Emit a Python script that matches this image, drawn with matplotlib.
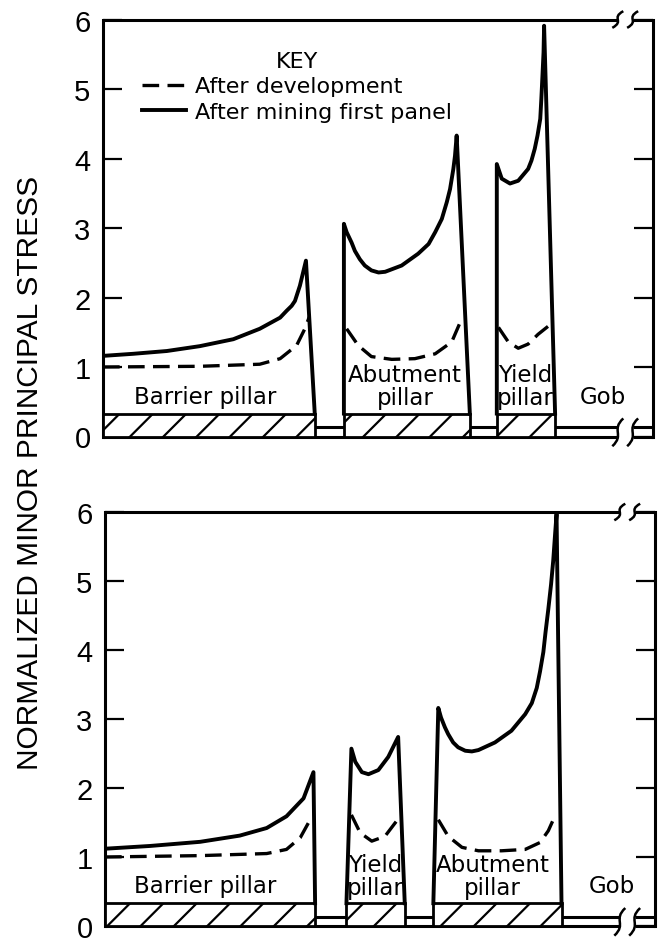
import matplotlib
matplotlib.use("Agg")
import matplotlib.pyplot as plt
from matplotlib.patches import Rectangle, PathPatch
from matplotlib.path import Path

plt.rcParams['lines.scale_dashes'] = False
plt.rcParams['hatch.linewidth'] = 1.6
plt.rcParams['font.family'] = ['DejaVu Sans']

# ---------------- data (x: distance across panel, 0-100; y: normalized stress) ----------------
# Top panel (after development / after mining first panel)
top_barrier_solid_x = [0, 5.5, 11.6, 17.6, 23.7, 28.5, 32.2, 33.4, 34.3, 34.9, 35.8, 36.9, 38.5]
top_barrier_solid_y = [1.16, 1.19, 1.23, 1.30, 1.40, 1.55, 1.71, 1.81, 1.88, 1.95, 2.17, 2.53, 0.33]
top_barrier_dash_x = [0, 17.6, 28.5, 32.2, 35.2, 36.7, 37.5]
top_barrier_dash_y = [1.0, 1.01, 1.04, 1.12, 1.31, 1.55, 1.72]

top_abut_solid_x = [43.8, 43.8, 44.3, 45.2, 45.8, 46.7, 47.6, 48.8, 50.1, 51.3, 54.3, 57.3,
                    59.2, 60.4, 61.6, 62.5, 63.1, 63.7, 64.0, 64.3, 66.7]
top_abut_solid_y = [0.33, 3.06, 2.94, 2.79, 2.67, 2.55, 2.46, 2.39, 2.36, 2.37, 2.46, 2.63,
                    2.77, 2.94, 3.13, 3.37, 3.56, 3.85, 4.04, 4.33, 0.33]
top_abut_dash_x = [44.3, 46.4, 48.8, 52.5, 56.7, 60.4, 63.4, 65.2]
top_abut_dash_y = [1.55, 1.31, 1.15, 1.11, 1.12, 1.19, 1.36, 1.69]

top_yield_solid_x = [71.6, 71.6, 72.5, 74.0, 75.5, 77.3, 77.9, 78.5, 79.0, 79.5, 79.7, 79.9,
                     80.1, 80.2, 82.2]
top_yield_solid_y = [0.33, 3.92, 3.71, 3.64, 3.68, 3.85, 3.97, 4.14, 4.33, 4.57, 4.86, 5.19,
                     5.53, 5.91, 0.33]
top_yield_dash_x = [71.9, 73.7, 75.5, 77.3, 79.1, 81.0]
top_yield_dash_y = [1.57, 1.36, 1.27, 1.33, 1.47, 1.59]

top_pillar_left = [0, 43.8, 71.6]
top_pillar_right = [38.5, 66.7, 82.2]
top_labels = ["Barrier pillar", "Abutment\npillar", "Yield\npillar", "Gob"]
top_label_x = [18.5, 54.9, 76.7, 90.9]
top_label_y = [0.58, 0.73, 0.73, 0.58]

# Bottom panel
bot_barrier_solid_x = [0, 8.2, 17.3, 24.5, 29.4, 33.0, 36.1, 37.9, 38.2]
bot_barrier_solid_y = [1.12, 1.16, 1.22, 1.31, 1.42, 1.59, 1.85, 2.23, 0.33]
bot_barrier_dash_x = [0, 17.3, 29.4, 33.0, 35.5, 37.3]
bot_barrier_dash_y = [1.0, 1.02, 1.05, 1.11, 1.28, 1.54]

bot_yield_solid_x = [43.9, 44.8, 45.5, 46.7, 47.9, 49.7, 51.5, 53.3, 54.5]
bot_yield_solid_y = [0.33, 2.57, 2.38, 2.23, 2.20, 2.26, 2.45, 2.74, 0.33]
bot_yield_dash_x = [44.8, 46.4, 48.5, 50.9, 53.0, 53.6]
bot_yield_dash_y = [1.61, 1.35, 1.23, 1.30, 1.52, 1.61]

bot_abut_solid_x = [59.7, 60.6, 61.1, 61.8, 62.4, 63.3, 64.2, 65.5, 66.7, 67.9, 70.9, 73.9,
                    76.4, 77.6, 78.5, 79.1, 79.7, 80.1, 80.6, 81.1, 81.5, 81.8, 82.1, 83.0]
bot_abut_solid_y = [0.33, 3.16, 3.02, 2.88, 2.78, 2.66, 2.59, 2.54, 2.53, 2.55, 2.66, 2.83,
                    3.07, 3.23, 3.45, 3.69, 3.97, 4.26, 4.59, 4.95, 5.30, 5.64, 5.97, 0.33]
bot_abut_dash_x = [60.6, 62.4, 64.9, 67.9, 72.1, 76.4, 79.1, 80.6, 81.5]
bot_abut_dash_y = [1.54, 1.30, 1.14, 1.09, 1.09, 1.11, 1.21, 1.38, 1.54]

bot_pillar_left = [0, 43.9, 59.7]
bot_pillar_right = [38.2, 54.5, 83.0]
bot_labels = ["Barrier pillar", "Yield\npillar", "Abutment\npillar", "Gob"]
bot_label_x = [18.2, 49.1, 70.5, 92.2]
bot_label_y = [0.59, 0.73, 0.73, 0.59]

y_ticks = [0, 1, 2, 3, 4, 5, 6]
y_label = "NORMALIZED MINOR PRINCIPAL STRESS"
key_labels = ["After development", "After mining first panel"]

# ---------------- style constants ----------------
PILLAR_H = 0.33
FLOOR_Y = 0.13
BREAK_X = (93.6, 96.3)
SOLID_LW = 2.8
DASH_LW = 2.4
DASH = (0, (12, 6))
SPINE_LW = 2.2
TEXT_FS = 16.5
KEY_FS = 16


def s_mark(ax, x, y, h):
    w = 1.0
    verts = [(x - w, y - h), (x + 1.3 * w, y - 0.15 * h),
             (x - 1.3 * w, y + 0.15 * h), (x + w, y + h)]
    codes = [Path.MOVETO, Path.CURVE4, Path.CURVE4, Path.CURVE4]
    ax.add_patch(PathPatch(Path(verts, codes), fill=False, lw=1.8,
                           edgecolor='black', clip_on=False, zorder=5))


def draw_panel(ax, solids, dashes, pl, pr, labels, lx, ly):
    ax.set_xlim(0, 100)
    ax.set_ylim(0, 6)
    for s in ('top', 'bottom'):
        ax.spines[s].set_visible(False)
    for s in ('left', 'right'):
        ax.spines[s].set_linewidth(SPINE_LW)
    ax.set_xticks([])
    ax.set_yticks(y_ticks)
    ax.set_yticklabels([str(t) for t in y_ticks], fontsize=21,
                       family=['Liberation Sans', 'DejaVu Sans'])
    ax.tick_params(axis='y', direction='in', length=14, width=1.6,
                   right=True, left=True, labelleft=True, labelright=False, pad=9)
    # top spine and bottom lines with breaks
    for yy in (6, FLOOR_Y, 0):
        ax.plot([0, BREAK_X[0]], [yy, yy], color='black', lw=SPINE_LW,
                clip_on=False, zorder=2, solid_capstyle='butt')
        ax.plot([BREAK_X[1], 100], [yy, yy], color='black', lw=SPINE_LW,
                clip_on=False, zorder=2, solid_capstyle='butt')
    for bx in BREAK_X:
        s_mark(ax, bx, 6, 0.12)
        s_mark(ax, bx, 0.06, 0.2)
    # pillars
    for l, r in zip(pl, pr):
        ax.add_patch(Rectangle((l, 0), r - l, PILLAR_H, facecolor='white',
                               edgecolor='black', hatch='/', lw=2.0, zorder=3,
                               clip_on=False))
    handles = []
    for x, y in dashes:
        h, = ax.plot(x, y, color='black', lw=DASH_LW, ls=DASH, zorder=4)
        handles.append(h)
    sh = []
    for x, y in solids:
        h, = ax.plot(x, y, color='black', lw=SOLID_LW, zorder=4,
                     solid_joinstyle='round')
        sh.append(h)
    for t, x, y in zip(labels, lx, ly):
        ax.text(x, y, t, ha='center', va='center', fontsize=TEXT_FS,
                linespacing=1.0, zorder=6)
    return handles[0], sh[0]


fig = plt.figure(figsize=(6.6, 9.45), dpi=100)
ax1 = fig.add_axes([103 / 660, 1 - 437.5 / 945, 550 / 660, 417 / 945])
ax2 = fig.add_axes([105 / 660, 1 - 927 / 945, 550 / 660, 414 / 945])

dh, shd = draw_panel(
    ax1,
    [(top_barrier_solid_x, top_barrier_solid_y), (top_abut_solid_x, top_abut_solid_y),
     (top_yield_solid_x, top_yield_solid_y)],
    [(top_barrier_dash_x, top_barrier_dash_y), (top_abut_dash_x, top_abut_dash_y),
     (top_yield_dash_x, top_yield_dash_y)],
    top_pillar_left, top_pillar_right, top_labels, top_label_x, top_label_y)

draw_panel(
    ax2,
    [(bot_barrier_solid_x, bot_barrier_solid_y), (bot_yield_solid_x, bot_yield_solid_y),
     (bot_abut_solid_x, bot_abut_solid_y)],
    [(bot_barrier_dash_x, bot_barrier_dash_y), (bot_yield_dash_x, bot_yield_dash_y),
     (bot_abut_dash_x, bot_abut_dash_y)],
    bot_pillar_left, bot_pillar_right, bot_labels, bot_label_x, bot_label_y)

leg = ax1.legend([dh, shd], key_labels, title="KEY", loc='upper left',
                 bbox_to_anchor=(0.071, 0.925), frameon=False, fontsize=KEY_FS,
                 title_fontsize=KEY_FS, handlelength=2.0, handletextpad=0.4,
                 labelspacing=0.25, borderpad=0, borderaxespad=0)

fig.text(30 / 660, 1 - 473 / 945, y_label, rotation=90, ha='center', va='center',
         fontsize=21.5, family=['Liberation Sans', 'DejaVu Sans'])

fig.savefig("out.png", dpi=100)
